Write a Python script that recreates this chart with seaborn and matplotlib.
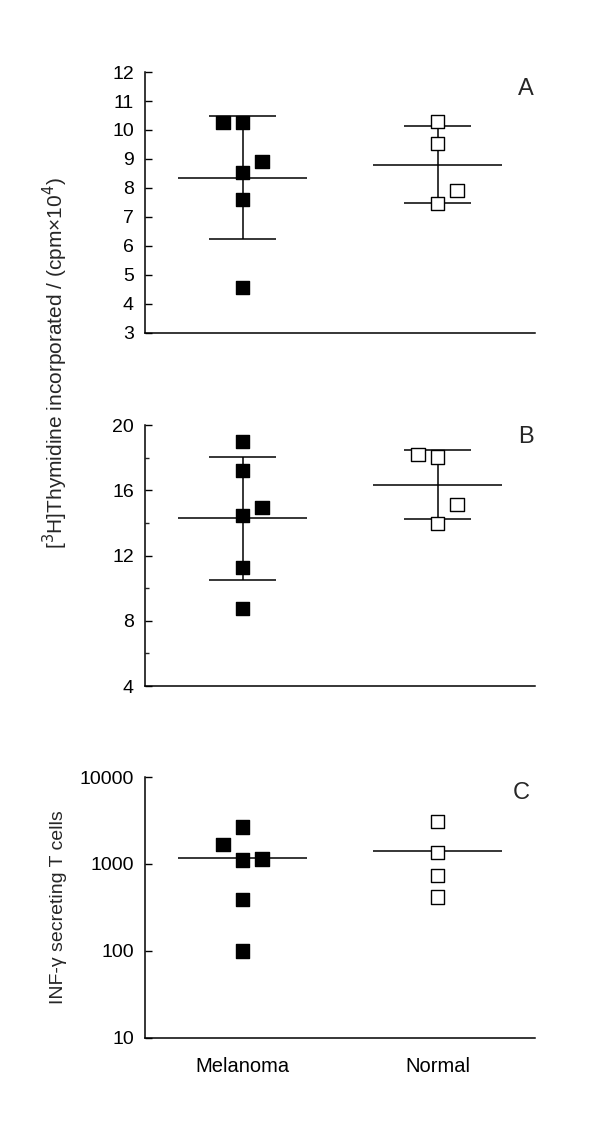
import numpy as np
import pandas as pd
import matplotlib
matplotlib.use("Agg")
import matplotlib.pyplot as plt
import seaborn as sns

# data
groups = ["Melanoma", "Normal"]

a_melanoma = [10.25, 10.25, 8.92, 8.52, 7.61, 4.56]
a_normal = [10.30, 9.53, 7.92, 7.46]

b_melanoma = [19.0, 17.2, 14.95, 14.48, 11.25, 8.76]
b_normal = [18.22, 18.04, 15.14, 13.98]

c_melanoma = [2660, 1667, 1112, 1140, 389, 100]
c_normal = [3090, 1360, 735, 418]

# horizontal jitter of overlapping points (-1 left, 0 centre, 1 right)
a_mel_side = [-1, 0, 1, 0, 0, 0]
a_nor_side = [0, 0, 1, 0]
b_mel_side = [0, 0, 1, 0, 0, 0]
b_nor_side = [-1, 0, 1, 0]
c_mel_side = [0, -1, 0, 1, 0, 0]
c_nor_side = [0, 0, 0, 0]

sns.set_theme(style="ticks")
plt.rcParams["font.family"] = ["Liberation Sans", "DejaVu Sans"]

fig = plt.figure(figsize=(6, 11.43), dpi=100)
left, width, height = 0.2417, 0.65, 0.2283
ax_a = fig.add_axes([left, 0.7087, width, height])
ax_b = fig.add_axes([left, 0.3998, width, height])
ax_c = fig.add_axes([left, 0.0919, width, height])

STEP = 0.10
MEAN_HW = 0.33
CAP_HW = 0.17
FS = 14


def draw_panel(ax, mel, nor, mel_side, nor_side, sd=True):
    df = pd.DataFrame({
        "group": ["Melanoma"] * len(mel) + ["Normal"] * len(nor),
        "value": mel + nor,
        "x": [s * STEP for s in mel_side] + [1 + s * STEP for s in nor_side],
    })
    for i, g in enumerate(groups):
        vals = np.array(df.loc[df.group == g, "value"])
        m = vals.mean()
        ax.hlines(m, i - MEAN_HW, i + MEAN_HW, color="black", lw=1.1, zorder=1)
        if sd:
            s = vals.std(ddof=1)
            ax.vlines(i, m - s, m + s, color="black", lw=1.1, zorder=1)
            ax.hlines([m - s, m + s], i - CAP_HW, i + CAP_HW, color="black", lw=1.1, zorder=1)
    sns.scatterplot(data=df, x="x", y="value", hue="group", palette={"Melanoma": "black", "Normal": "white"},
                    marker="s", s=90, edgecolor="black", linewidth=1.0, legend=False, ax=ax, zorder=3)
    ax.set_xlim(-0.5, 1.5)
    ax.set_xlabel("")
    ax.set_ylabel("")
    sns.despine(ax=ax)
    for sp in ["left", "bottom"]:
        ax.spines[sp].set_linewidth(1.1)
        ax.spines[sp].set_color("black")
    ax.tick_params(axis="y", direction="in", length=5, width=1, labelsize=FS, colors="black", pad=8)
    ax.tick_params(axis="y", which="minor", direction="in", length=3, width=1)
    ax.tick_params(axis="x", length=0, labelsize=FS + 0.5, colors="black")


draw_panel(ax_a, a_melanoma, a_normal, a_mel_side, a_nor_side)
ax_a.set_ylim(3, 12)
ax_a.set_yticks(range(3, 13))
ax_a.set_xticks([])
ax_a.text(0.977, 0.935, "A", transform=ax_a.transAxes, ha="center", va="center", fontsize=17)

draw_panel(ax_b, b_melanoma, b_normal, b_mel_side, b_nor_side)
ax_b.set_ylim(4, 20)
ax_b.set_yticks([4, 8, 12, 16, 20])
ax_b.set_yticks([6, 10, 14, 18], minor=True)
ax_b.set_xticks([])
ax_b.text(0.977, 0.954, "B", transform=ax_b.transAxes, ha="center", va="center", fontsize=17)

draw_panel(ax_c, c_melanoma, c_normal, c_mel_side, c_nor_side, sd=False)
ax_c.set_yscale("log")
ax_c.set_ylim(10, 10000)
ax_c.set_yticks([10, 100, 1000, 10000])
ax_c.set_yticklabels(["10", "100", "1000", "10000"])
ax_c.yaxis.set_minor_locator(matplotlib.ticker.NullLocator())
ax_c.set_xticks([0, 1])
ax_c.set_xticklabels(groups)
ax_c.tick_params(axis="x", pad=14)
ax_c.set_ylabel("INF-\u03b3 secreting T cells", fontsize=14, labelpad=9)
ax_c.text(0.965, 0.939, "C", transform=ax_c.transAxes, ha="center", va="center", fontsize=17)

fig.text(55 / 600, 1 - 363 / 1143, "[$^3$H]Thymidine incorporated / (cpm\u00d710$^4$)",
         rotation=90, ha="center", va="center", fontsize=15)

fig.savefig("out.png", dpi=100)
